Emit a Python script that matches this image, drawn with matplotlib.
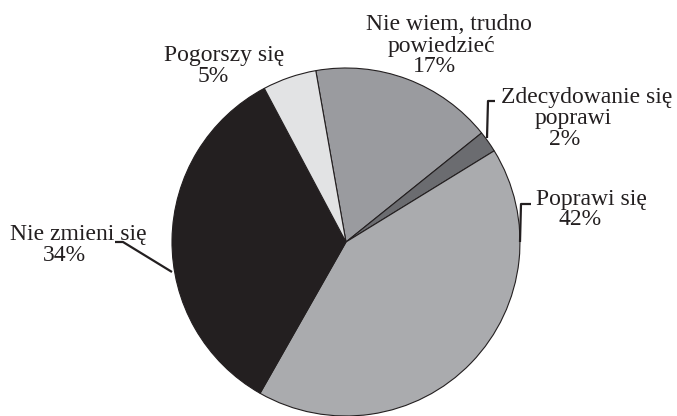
import matplotlib.pyplot as plt

# dane
labels = ['Nie wiem, trudno\npowiedzieć', 'Zdecydowanie się\npoprawi', 'Poprawi się', 'Nie zmieni się', 'Pogorszy się']
values = [17, 2, 42, 34, 5]
colors = ['#9a9b9f', '#6b6c70', '#aaabae', '#231f20', '#e2e3e4']

W, H = 677, 416
cx, cy, R = 346, 242, 174


def px(x, y):
    # piksele -> wspolrzedne danych (promien kola = 1)
    return (x - cx) / R, (cy - y) / R


plt.rcParams['font.family'] = ['Liberation Serif', 'DejaVu Serif']

fig = plt.figure(figsize=(W / 100, H / 100), dpi=100)
ax = fig.add_axes([0, 0, 1, 1])
ax.pie(values, colors=colors, startangle=100, counterclock=False,
       wedgeprops=dict(edgecolor='#231f20', linewidth=0.8))
ax.set_xlim(-cx / R, (W - cx) / R)
ax.set_ylim(-(H - cy) / R, cy / R)
ax.set_aspect('equal')
ax.axis('off')

# polozenie kolejnych wierszy etykiet: (srodek x, linia bazowa y) w pikselach
line_pos = [
    [(449, 30), (441, 52), (434, 72)],
    [(587, 103), (573, 124), (565, 145)],
    [(591, 205), (580, 225)],
    [(78, 240), (64, 261)],
    [(224, 61), (213, 82)],
]
for lab, v, pos in zip(labels, values, line_pos):
    lines = lab.split('\n') + [f'{v}%']
    for s, (x, y) in zip(lines, pos):
        tx, ty = px(x, y)
        ax.text(tx, ty, s, ha='center', va='baseline', fontsize=17, color='#231f20')

# linie odniesienia
leaders = [
    [(487, 138), (488, 101), (495, 101)],
    [(520, 242), (521, 204), (531, 204)],
    [(172, 272), (123, 242), (115, 242)],
]
for pts in leaders:
    xs, ys = zip(*[px(x, y) for x, y in pts])
    ax.plot(xs, ys, color='#231f20', lw=1.6, solid_capstyle='butt')

fig.savefig('out.png', dpi=100)
